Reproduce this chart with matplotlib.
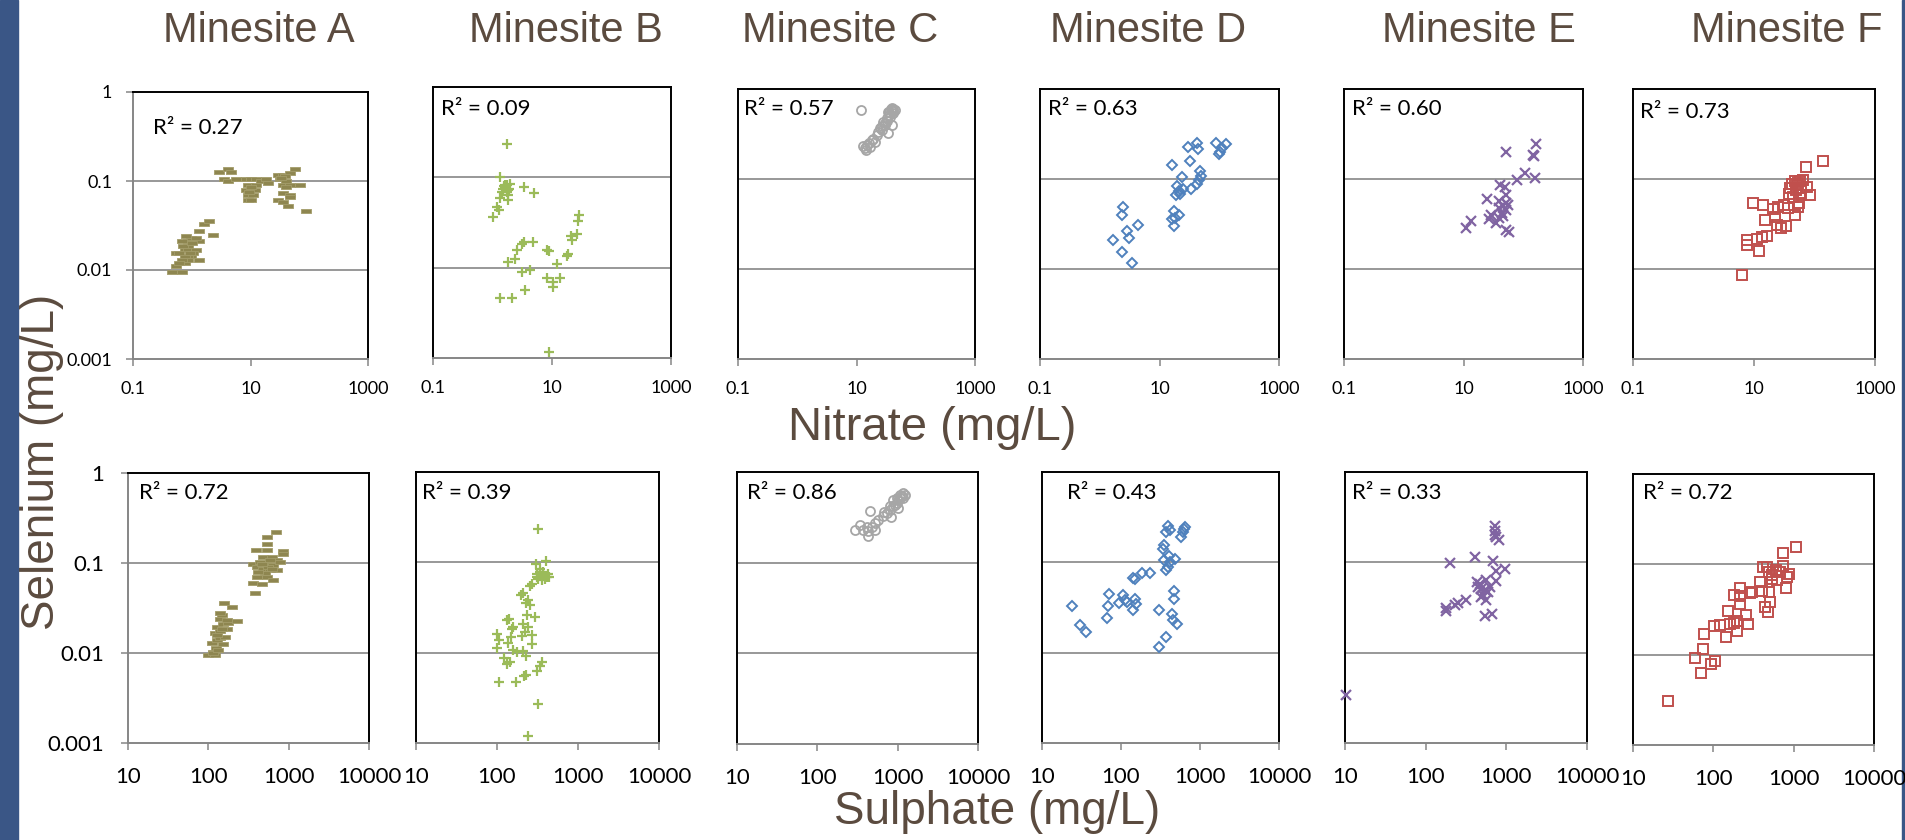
import matplotlib
matplotlib.use("Agg")
import matplotlib.pyplot as plt
from matplotlib.patches import Rectangle
from matplotlib.ticker import NullLocator

# ---- data: Selenium vs Nitrate (top row) ----
no3_A = [0.46, 0.67, 0.55, 0.76, 0.86, 0.98, 1.33, 0.55, 0.76, 0.86, 1.20, 1.33, 0.86, 0.98, 0.67, 1.20,
         1.33, 1.60, 1.97, 2.30, 0.86, 0.67, 0.60, 0.76, 1.05, 0.86, 0.60, 0.70, 1.00, 0.80, 0.95,
         2.91, 4.14, 4.72, 3.49, 4.14, 5.59, 8.5, 10.3, 12.6, 9.06, 12.6, 8.5, 11.8, 9.06, 11.0, 9.06,
         10.3, 14.9, 18.6, 19.9, 29.4, 35.7, 46.4, 56.5, 31.4, 40.8, 35.7, 46.4, 68.7, 35.7, 46.4, 29.4,
         35.7, 43.5, 46.4, 89.2, 38.2, 10.0, 9.5, 40.0, 33.0]
se_no3_A = [0.0094, 0.0094, 0.0110, 0.0120, 0.0131, 0.0142, 0.0131, 0.0155, 0.0169, 0.0169, 0.0169, 0.0210,
            0.0210, 0.0229, 0.0210, 0.0229, 0.0272, 0.0332, 0.0352, 0.0249, 0.0142, 0.0131, 0.0120, 0.0142,
            0.0155, 0.0185, 0.0155, 0.0185, 0.0200, 0.0240, 0.0155,
            0.125, 0.136, 0.126, 0.106, 0.0992, 0.104, 0.104, 0.104, 0.104, 0.091, 0.091, 0.080, 0.080,
            0.0702, 0.0702, 0.0617, 0.0617, 0.0992, 0.104, 0.095, 0.118, 0.118, 0.123, 0.136, 0.104, 0.0992,
            0.091, 0.091, 0.091, 0.0733, 0.0702, 0.0617, 0.0576, 0.0528, 0.066, 0.0456, 0.113, 0.085, 0.075,
            0.085, 0.108]

no3_B = [1.72, 1.33, 1.96, 1.61, 1.77, 1.51, 1.72, 1.91, 1.42, 1.84, 1.33, 1.84, 1.21, 1.28, 1.03, 3.42,
         5.04, 28.9, 27.8, 26.1, 20.6, 21.4, 3.38, 4.84, 3.08, 2.54, 2.38, 1.79, 8.13, 8.89, 18.8, 17.7,
         12.0, 3.08, 4.26, 8.13, 10.3, 13.6, 10.5, 3.51, 1.33, 2.14, 9.02, 1.65, 1.85, 1.55]
se_no3_B = [0.232, 0.101, 0.085, 0.078, 0.0815, 0.075, 0.0688, 0.075, 0.0688, 0.0632, 0.0596, 0.0556,
            0.0469, 0.0431, 0.0364, 0.078, 0.0676, 0.038, 0.0329, 0.0238, 0.0224, 0.0204, 0.0192, 0.0192,
            0.0181, 0.0156, 0.0124, 0.0116, 0.0156, 0.0152, 0.0141, 0.0135, 0.0109, 0.0090, 0.0095, 0.0077,
            0.0069, 0.0077, 0.0061, 0.0057, 0.00466, 0.00466, 0.00116, 0.083, 0.072, 0.080]

no3_C = [12.0, 14.9, 18.1, 14.6, 20.6, 23.5, 26.7, 30.4, 34.6, 39.4, 36.9, 42.0, 44.9, 39.4, 34.6, 32.4,
         28.5, 25.1, 22.0, 17.0, 13.1, 14.0, 36.0, 40.0, 38.0, 42.0, 35.0, 33.0, 30.0, 27.0, 16.0, 19.0, 41.0]
se_no3_C = [0.585, 0.239, 0.271, 0.210, 0.260, 0.336, 0.350, 0.398, 0.322, 0.398, 0.493, 0.537, 0.585,
            0.585, 0.560, 0.472, 0.434, 0.366, 0.308, 0.229, 0.233, 0.219, 0.55, 0.62, 0.60, 0.60, 0.52,
            0.44, 0.42, 0.39, 0.25, 0.28, 0.57]

no3_D = [2.49, 2.34, 4.45, 2.91, 3.14, 1.69, 2.34, 3.48, 16.1, 29.9, 42.3, 43.9, 31.8, 23.7, 19.5, 24.6,
         34.0, 18.8, 22.2, 20.8, 48.1, 49.9, 45.1, 42.3, 17.2, 20.8, 18.3, 16.1, 17.2, 89.1, 131, 111, 97.5, 104]
se_no3_D = [0.0491, 0.0401, 0.0306, 0.0265, 0.0223, 0.0209, 0.0153, 0.0118, 0.144, 0.224, 0.249, 0.214,
            0.158, 0.105, 0.083, 0.078, 0.0776, 0.0672, 0.0689, 0.0731, 0.124, 0.107, 0.0984, 0.0888,
            0.0440, 0.0394, 0.0372, 0.0362, 0.0301, 0.249, 0.245, 0.220, 0.190, 0.202]

no3_E = [164, 51.6, 144, 150, 109, 77.8, 160, 41.5, 49.7, 51.6, 24.9, 40.0, 51.6, 45.4, 55.1, 40.0, 51.6,
         43.8, 29.0, 27.2, 45.4, 35.2, 13.4, 11.1, 51.6, 58.7, 40.0]
se_no3_E = [0.247, 0.200, 0.186, 0.179, 0.117, 0.0983, 0.103, 0.0858, 0.0808, 0.0670, 0.0604, 0.0565,
            0.0541, 0.0497, 0.0510, 0.0476, 0.0456, 0.0419, 0.0395, 0.0359, 0.0385, 0.0324, 0.0339,
            0.0285, 0.0274, 0.0255, 0.0369]

no3_F = [136, 72.8, 47.8, 57.9, 65.7, 42.1, 50.9, 74.6, 39.5, 49.7, 38.5, 59.3, 84.7, 9.51, 14.3, 20.9,
         25.3, 31.4, 37.1, 56.4, 47.8, 15.2, 22.3, 23.8, 28.0, 33.5, 16.2, 13.4, 11.1, 7.55, 7.55, 12.2,
         6.25, 54.3, 44.9, 53.0, 60.0]
se_no3_F = [0.160, 0.135, 0.0959, 0.0959, 0.0975, 0.0881, 0.0858, 0.0823, 0.0788, 0.0756, 0.0683, 0.0665,
            0.0665, 0.0547, 0.0515, 0.0461, 0.0486, 0.0515, 0.0473, 0.0538, 0.0399, 0.0346, 0.0377,
            0.0310, 0.0284, 0.0297, 0.0234, 0.0224, 0.0217, 0.0211, 0.0186, 0.0157, 0.00865, 0.0494,
            0.0637, 0.090, 0.080]

# ---- data: Selenium vs Sulphate (bottom row) ----
so4_A = [100, 121, 115, 125, 110, 127, 140, 161, 121, 140, 169, 127, 154, 177, 140, 173, 230, 147, 140,
         199, 157, 115, 133, 151, 127, 147,
         689, 532, 532, 532, 392, 841, 858, 484, 614, 709, 363, 440, 532, 644, 780, 400, 484, 586, 709,
         400, 532, 644, 363, 461, 381, 586, 507, 419, 560, 461, 614]
se_so4_A = [0.0095, 0.0095, 0.0103, 0.0113, 0.0130, 0.0139, 0.0146, 0.0152, 0.0165, 0.0177, 0.0183,
            0.0196, 0.0210, 0.0217, 0.0236, 0.0232, 0.0228, 0.0264, 0.0275, 0.0321, 0.0356, 0.0099,
            0.0108, 0.0126, 0.0159, 0.0187,
            0.220, 0.195, 0.164, 0.141, 0.139, 0.135, 0.125, 0.117, 0.117, 0.107, 0.0987, 0.103, 0.0987,
            0.0946, 0.103, 0.0906, 0.0868, 0.0832, 0.0832, 0.0703, 0.0703, 0.0645, 0.0603, 0.0583,
            0.0459, 0.107, 0.0765, 0.0797, 0.0906, 0.0987, 0.0868]

so4_B = [318, 303, 399, 340, 309, 373, 410, 356, 324, 430, 268, 255, 211, 198, 244, 228, 255, 232, 294,
         134, 141, 159, 155, 211, 244, 222, 206, 273, 148, 101, 107, 136, 268, 101, 159, 175, 211, 228,
         122, 145, 134, 356, 340, 309, 228, 215, 106, 172, 324, 244, 340, 373, 309, 389, 437]
se_so4_B = [0.234, 0.0967, 0.103, 0.0851, 0.0749, 0.0782, 0.0688, 0.0632, 0.0659, 0.0736, 0.0571,
            0.0547, 0.0458, 0.0431, 0.0380, 0.0358, 0.0334, 0.0259, 0.0248, 0.0228, 0.0234, 0.0192,
            0.0181, 0.0209, 0.0192, 0.0169, 0.0153, 0.0156, 0.0149, 0.0160, 0.0137, 0.0128, 0.0126,
            0.0114, 0.0108, 0.0103, 0.0104, 0.0093, 0.0088, 0.0079, 0.0074, 0.0079, 0.0071, 0.0063,
            0.0057, 0.0055, 0.0047, 0.0047, 0.0027, 0.0012, 0.0782, 0.0712, 0.0688, 0.0659, 0.0688]

so4_C = [1178, 1070, 972, 884, 803, 730, 663, 1019, 826, 683, 457, 575, 522, 475, 411, 431, 374, 340, 294,
         522, 431, 884, 1122, 1234, 927, 803, 1019, 1070, 1178, 972]
se_so4_C = [0.587, 0.517, 0.455, 0.418, 0.384, 0.353, 0.324, 0.401, 0.319, 0.359, 0.375, 0.298, 0.274,
            0.247, 0.247, 0.222, 0.231, 0.260, 0.227, 0.227, 0.195, 0.495, 0.539, 0.562, 0.436, 0.418,
            0.495, 0.562, 0.517, 0.517]

so4_D = [23.9, 30.4, 35.9, 65.9, 69.2, 71.3, 94.4, 107, 112, 118, 140, 150, 153, 143, 150, 187, 236, 304,
         304, 376, 444, 457, 513, 466, 475, 376, 395, 415, 348, 480, 342, 352, 403, 366, 395, 415, 582,
         611, 654, 629]
se_so4_D = [0.0329, 0.0201, 0.0171, 0.0244, 0.0329, 0.0442, 0.0355, 0.0431, 0.0380, 0.0361, 0.0299,
            0.0396, 0.0343, 0.0671, 0.0659, 0.0769, 0.0762, 0.0299, 0.0116, 0.0149, 0.0266, 0.0228,
            0.0206, 0.0396, 0.0482, 0.0815, 0.0888, 0.101, 0.105, 0.110, 0.142, 0.154, 0.119, 0.217,
            0.250, 0.226, 0.191, 0.217, 0.246, 0.236]

so4_E = [10.4, 199, 405, 683, 731, 717, 803, 751, 751, 972, 751, 433, 467, 565, 490, 539, 592, 514, 490,
         554, 319, 252, 229, 180, 180, 539, 670, 446, 621, 717]
se_so4_E = [0.00337, 0.0984, 0.115, 0.103, 0.250, 0.199, 0.178, 0.191, 0.0795, 0.0851, 0.0621, 0.0605,
            0.0571, 0.0632, 0.0511, 0.0490, 0.0470, 0.0431, 0.0413, 0.0380, 0.0380, 0.0358, 0.0340,
            0.0315, 0.0289, 0.0255, 0.0270, 0.0533, 0.0533, 0.225]

so4_F = [1069, 730, 411, 465, 737, 489, 609, 537, 883, 826, 620, 811, 385, 303, 404, 498, 217, 179, 213,
         213, 512, 436, 479, 151, 257, 270, 179, 163, 197, 197, 122, 101, 77.3, 144, 73.7, 59.7, 104,
         94.5, 70.2, 27.0, 289, 537, 682]
se_so4_F = [0.157, 0.132, 0.0942, 0.0942, 0.0959, 0.0830, 0.0865, 0.0763, 0.0782, 0.0731, 0.0672,
            0.0543, 0.0644, 0.0500, 0.0513, 0.0491, 0.0543, 0.0459, 0.0448, 0.0365, 0.0387, 0.0341,
            0.0293, 0.0301, 0.0272, 0.0220, 0.0223, 0.0220, 0.0233, 0.0184, 0.0214, 0.0209, 0.0171,
            0.0157, 0.0116, 0.0092, 0.0086, 0.0078, 0.0062, 0.0031, 0.0487, 0.0684, 0.0830]

sites = ["Minesite A", "Minesite B", "Minesite C", "Minesite D", "Minesite E", "Minesite F"]
r2_nitrate = ["0.27", "0.09", "0.57", "0.63", "0.60", "0.73"]
r2_sulphate = ["0.72", "0.39", "0.86", "0.43", "0.33", "0.72"]

top_x = [no3_A, no3_B, no3_C, no3_D, no3_E, no3_F]
top_y = [se_no3_A, se_no3_B, se_no3_C, se_no3_D, se_no3_E, se_no3_F]
bot_x = [so4_A, so4_B, so4_C, so4_D, so4_E, so4_F]
bot_y = [se_so4_A, se_so4_B, se_so4_C, se_so4_D, se_so4_E, se_so4_F]

# ---- styling ----
W, H = 1905, 840
rect_marker = [(-1, -0.38), (1, -0.38), (1, 0.38), (-1, 0.38), (-1, -0.38)]
styles = [
    dict(marker=rect_marker, ms=7.5, mfc="#8E8650", mec="#A39C6A", mew=0.6),
    dict(marker="+", ms=7, mfc="none", mec="#9BBB59", mew=1.6),
    dict(marker="o", ms=6.5, mfc="none", mec="#A6A6A6", mew=1.3),
    dict(marker="D", ms=5, mfc="none", mec="#4F81BD", mew=1.4),
    dict(marker="x", ms=6.5, mfc="none", mec="#8064A2", mew=1.6),
    dict(marker="s", ms=7, mfc="none", mec="#C0504D", mew=1.4),
]
brown = "#5B4B3F"
grey = "#868686"
tick_font = "Lato"

# axes boxes in pixels: left, top, right, bottom
top_boxes = [(133, 92, 368, 359), (433, 87, 671, 358), (738, 89, 975, 359),
             (1040, 89, 1279, 359), (1344, 89, 1583, 359), (1633, 89, 1875, 359)]
bot_boxes = [(128, 473, 369, 743), (416, 472, 659, 743), (737, 472, 978, 744),
             (1042, 472, 1279, 743), (1345, 472, 1587, 743), (1633, 474, 1874, 745)]
top_r2_pos = [(153, 128), (441, 109), (744, 109), (1048, 109), (1352, 109), (1640, 112)]
bot_r2_pos = [(139, 493), (422, 493), (747, 493), (1067, 493), (1352, 493), (1643, 493)]
title_x = [259, 566, 840, 1148, 1479, 1787]

fig = plt.figure(figsize=(W / 100, H / 100), dpi=100)
fig.patch.set_facecolor("white")
fig.add_artist(Rectangle((0, 0), 18 / W, 1, transform=fig.transFigure, color="#3A5686", zorder=0))
fig.add_artist(Rectangle((1902 / W, 0), 3 / W, 1, transform=fig.transFigure, color="#3A5686", zorder=0))


def make_axes(box, xs, ys, style, first, xlim, xticks, xlabels, fs, xpad, ypad):
    l, t, r, b = box
    ax = fig.add_axes([l / W, 1 - b / H, (r - l) / W, (b - t) / H])
    ax.set_xscale("log")
    ax.set_yscale("log")
    ax.set_xlim(xlim)
    ax.set_ylim(0.001, 1)
    ax.set_xticks(xticks)
    ax.set_xticklabels(xlabels, fontfamily=tick_font)
    ax.set_yticks([0.001, 0.01, 0.1, 1])
    ax.set_yticklabels(["0.001", "0.01", "0.1", "1"], fontfamily=tick_font)
    ax.xaxis.set_minor_locator(NullLocator())
    ax.yaxis.set_minor_locator(NullLocator())
    for v in (0.01, 0.1):
        ax.axhline(v, color=grey, lw=1.2, zorder=1)
    for s in ("top", "right"):
        ax.spines[s].set_color("black")
        ax.spines[s].set_linewidth(1.4)
    ax.spines["bottom"].set_color(grey)
    ax.spines["bottom"].set_linewidth(1.4)
    ax.spines["left"].set_color(grey if first else "black")
    ax.spines["left"].set_linewidth(1.4)
    ax.tick_params(axis="x", direction="out", length=5, width=1.1, color=grey,
                   labelsize=fs, pad=xpad, labelcolor="black")
    if first:
        ax.tick_params(axis="y", direction="out", length=5, width=1.1, color=grey,
                       labelsize=fs, pad=ypad, labelcolor="black")
    else:
        ax.tick_params(axis="y", length=0, labelleft=False)
    ax.plot(xs, ys, ls="none", zorder=3, clip_on=False, **style)
    return ax


for i in range(6):
    make_axes(top_boxes[i], top_x[i], top_y[i], styles[i], i == 0, (0.1, 1000),
              [0.1, 10, 1000], ["0.1", "10", "1000"], 13, 11, 10)
    make_axes(bot_boxes[i], bot_x[i], bot_y[i], styles[i], i == 0, (10, 10000),
              [10, 100, 1000, 10000], ["10", "100", "1000", "10000"], 16, 12, 12)
    tx, ty = top_r2_pos[i]
    fig.text(tx / W, 1 - ty / H, "R² = " + r2_nitrate[i], fontsize=16, family=tick_font,
             va="center", ha="left")
    bx, by = bot_r2_pos[i]
    fig.text(bx / W, 1 - by / H, "R² = " + r2_sulphate[i], fontsize=16, family=tick_font,
             va="center", ha="left")
    fig.text(title_x[i] / W, 1 - 31 / H, sites[i], fontsize=30, family="Liberation Sans",
             color=brown, ha="center", va="center")

fig.text(932 / W, 1 - 428 / H, "Nitrate (mg/L)", fontsize=34, family="Liberation Sans",
         color=brown, ha="center", va="center")
fig.text(997 / W, 1 - 812 / H, "Sulphate (mg/L)", fontsize=33, family="Liberation Sans",
         color=brown, ha="center", va="center")
fig.text(42 / W, 1 - 462 / H, "Selenium (mg/L)", fontsize=33, family="Liberation Sans",
         color=brown, ha="center", va="center", rotation=90)

fig.savefig("out.png", dpi=100)
